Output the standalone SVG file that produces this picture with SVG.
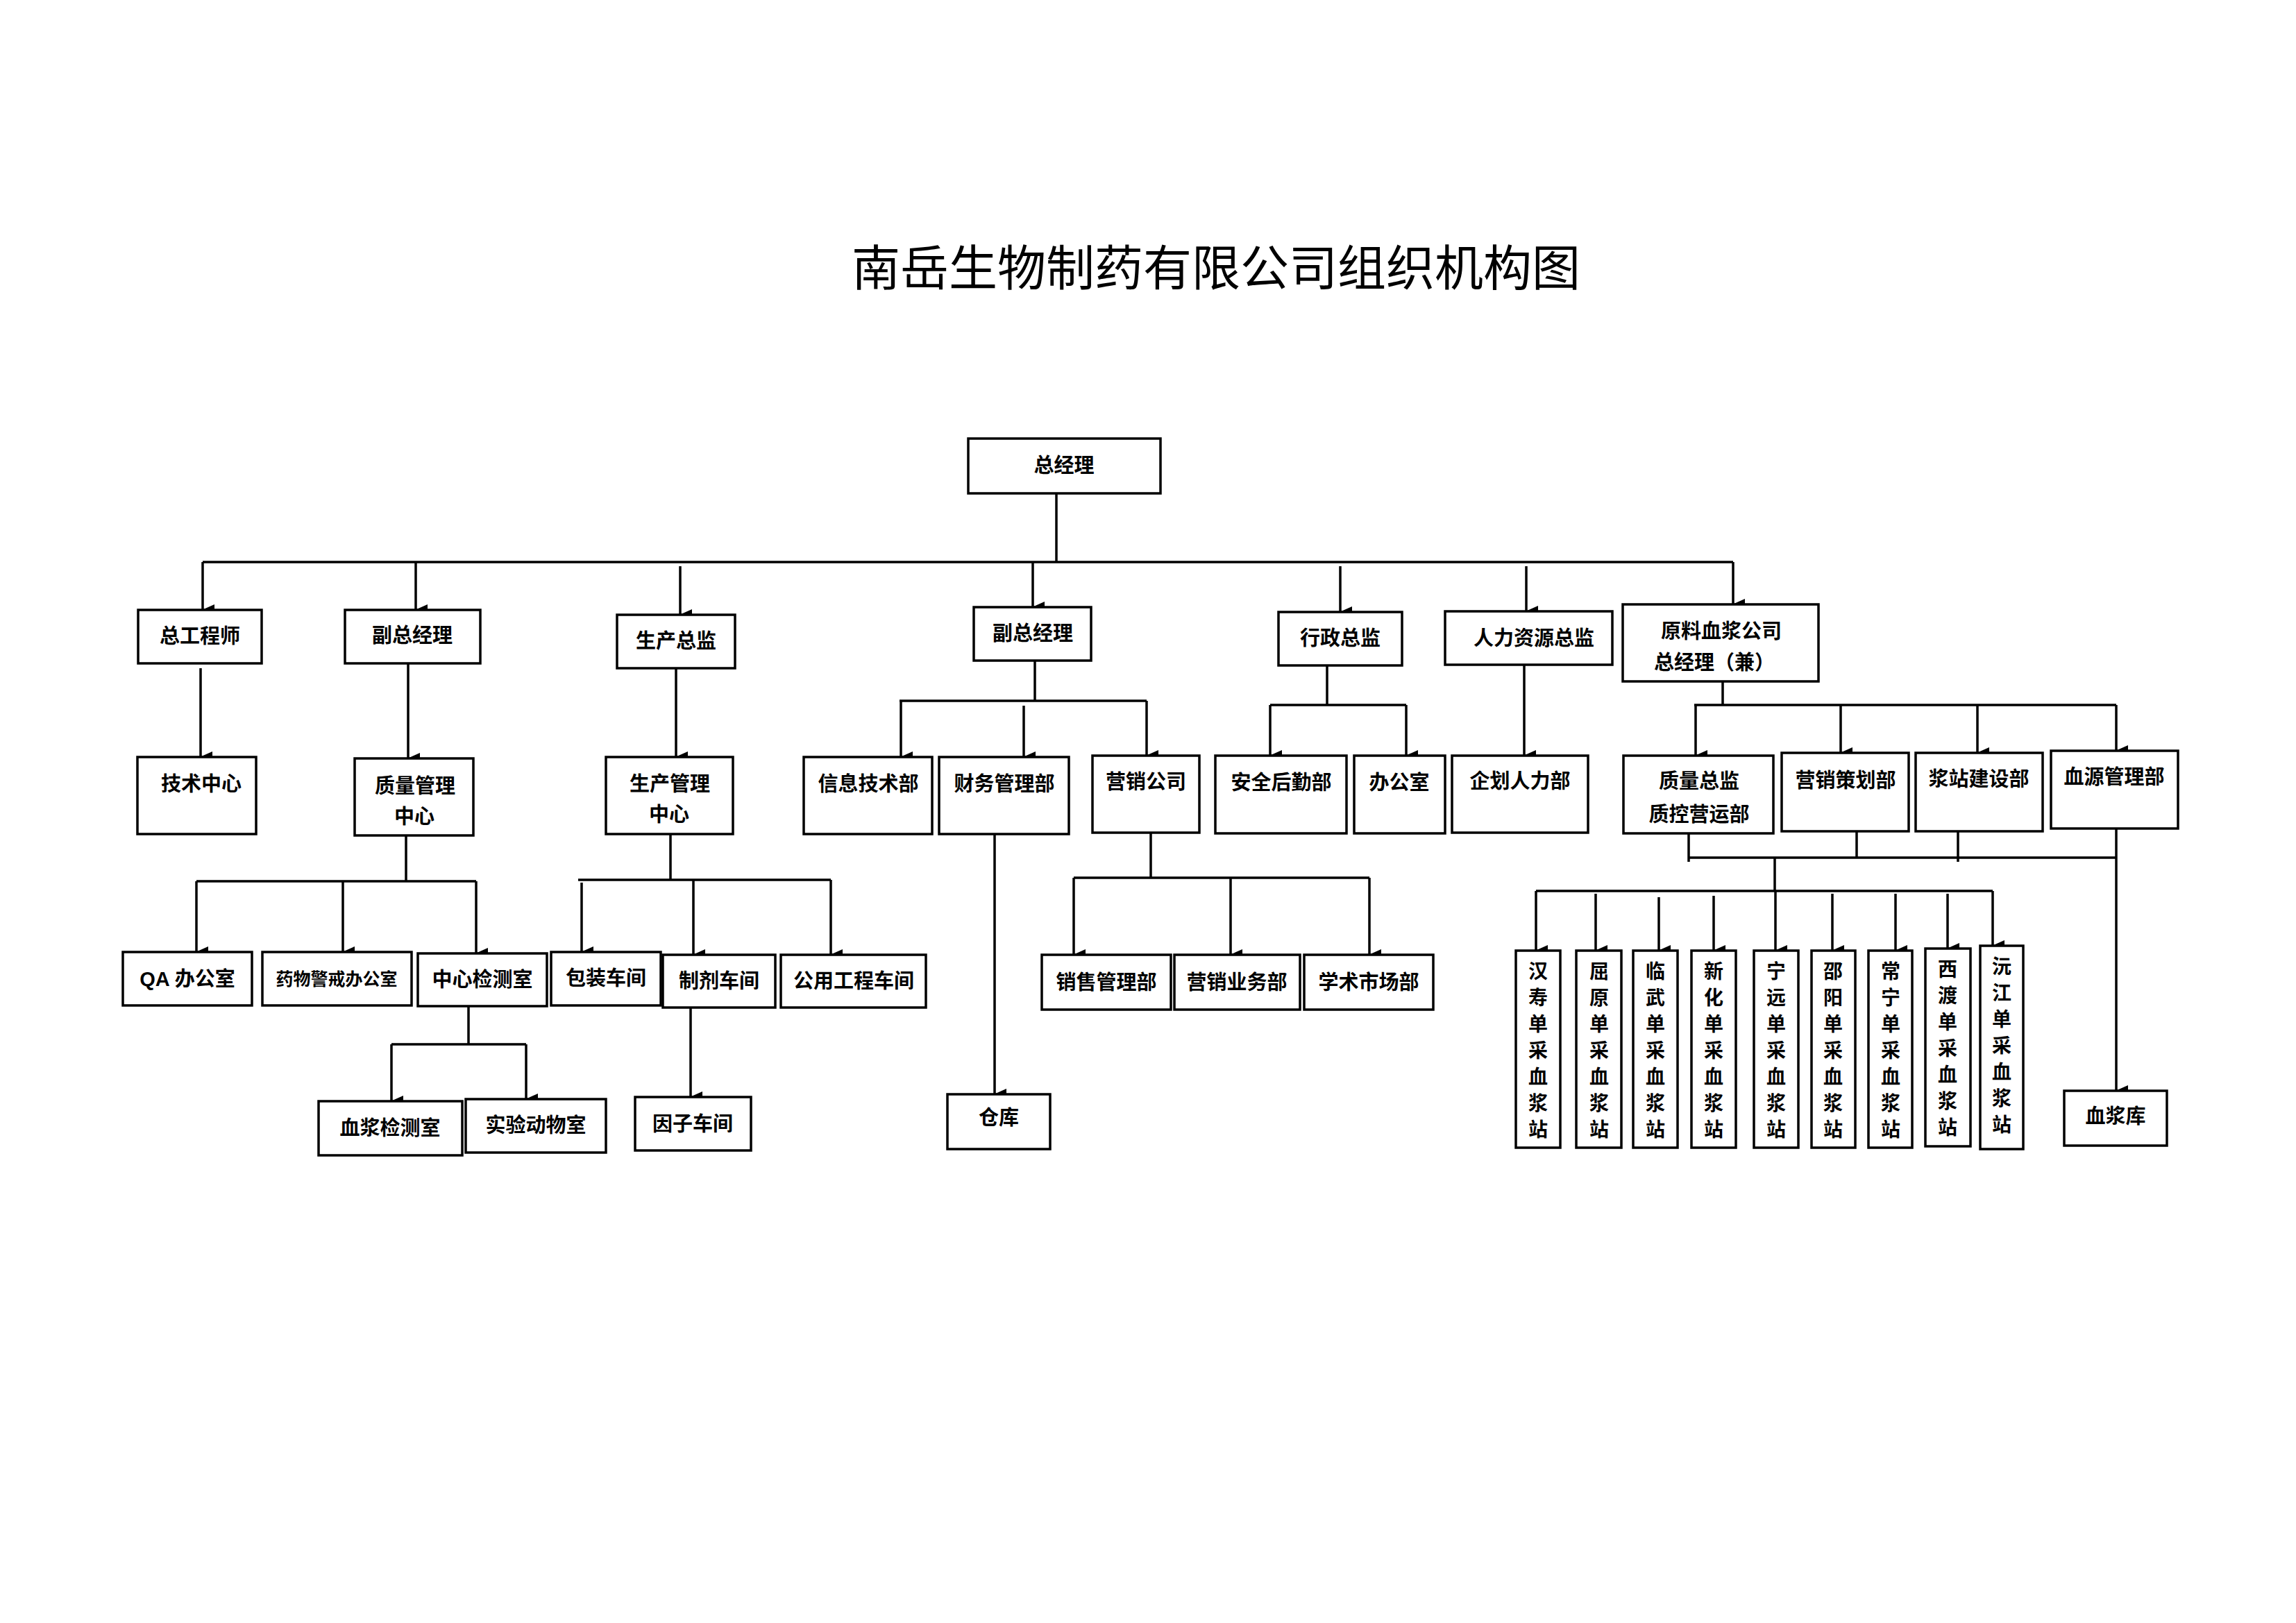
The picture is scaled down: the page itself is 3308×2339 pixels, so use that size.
<svg xmlns="http://www.w3.org/2000/svg" width="3308" height="2339" viewBox="0 0 3308 2339">
<style>
rect{fill:#fff;stroke:#000;stroke-width:3.5}
text{font-family:"Liberation Sans","Noto Sans CJK SC",sans-serif;font-weight:bold;font-size:29px;text-anchor:middle;dominant-baseline:central;fill:#000}
.t{font-weight:normal;font-size:70px}
.v{font-size:28px}
#conn path{fill:none;stroke:#000;stroke-width:3.5}
#conn path.a{marker-end:url(#ah)}
</style>
<defs><marker id="ah" markerWidth="16" markerHeight="18" refX="8" refY="17" orient="auto-start-reverse" markerUnits="userSpaceOnUse" viewBox="0 0 16 18"><path d="M0 0 L16 0 L8 18 Z" fill="#000" transform="rotate(0)"/></marker></defs>
<rect x="0" y="0" width="3308" height="2339" style="stroke:none"/>
<text class="t" x="1752" y="388">南岳生物制药有限公司组织机构图</text>
<g id="conn">
<path d="M1522 711 V810"/>
<path d="M292 810 H2497"/>
<path class="a" d="M292 810 V879"/>
<path class="a" d="M599 810 V879"/>
<path class="a" d="M980 816 V886"/>
<path class="a" d="M1488 810 V875"/>
<path class="a" d="M1931 816 V882"/>
<path class="a" d="M2199 816 V881"/>
<path class="a" d="M2497 810 V871"/>
<path class="a" d="M289 963 V1091"/>
<path class="a" d="M588 956 V1093"/>
<path class="a" d="M974 963 V1091"/>
<path d="M585 1204 V1270 M283 1270 H686"/>
<path class="a" d="M283 1270 V1372"/>
<path class="a" d="M494 1270 V1372"/>
<path class="a" d="M686 1270 V1374"/>
<path d="M675 1450 V1505 M564 1505 H758"/>
<path class="a" d="M564 1505 V1587"/>
<path class="a" d="M758 1505 V1584"/>
<path d="M966 1202 V1268 M833 1268 H1197"/>
<path class="a" d="M838 1272 V1372"/>
<path class="a" d="M999 1268 V1376"/>
<path class="a" d="M1197 1268 V1376"/>
<path class="a" d="M995 1452 V1581"/>
<path d="M1491 952 V1010 M1296 1010 H1652"/>
<path class="a" d="M1298 1010 V1091"/>
<path class="a" d="M1475 1017 V1091"/>
<path class="a" d="M1652 1010 V1089"/>
<path class="a" d="M1433 1202 V1577"/>
<path d="M1658 1200 V1265 M1547 1265 H1973"/>
<path class="a" d="M1547 1265 V1376"/>
<path class="a" d="M1773 1265 V1376"/>
<path class="a" d="M1973 1265 V1376"/>
<path d="M1912 959 V1016 M1830 1016 H2026"/>
<path class="a" d="M1830 1016 V1089"/>
<path class="a" d="M2026 1016 V1089"/>
<path class="a" d="M2196 958 V1089"/>
<path d="M2482 982 V1016 M2441 1016 H3049"/>
<path class="a" d="M2443 1016 V1089"/>
<path class="a" d="M2652 1016 V1085"/>
<path class="a" d="M2849 1016 V1085"/>
<path class="a" d="M3049 1016 V1082"/>
<path d="M2433 1201 V1242 M2675 1198 V1236 M2821 1198 V1242 M2433 1236 H3049"/>
<path class="a" d="M3049 1194 V1572"/>
<path d="M2557 1236 V1284 M2213 1284 H2871"/>
<path class="a" d="M2213 1284 V1370"/>
<path class="a" d="M2299 1288 V1370"/>
<path class="a" d="M2390 1293 V1370"/>
<path class="a" d="M2469 1291 V1370"/>
<path class="a" d="M2558 1284 V1370"/>
<path class="a" d="M2640 1288 V1370"/>
<path class="a" d="M2731 1288 V1370"/>
<path class="a" d="M2806 1288 V1367"/>
<path class="a" d="M2871 1284 V1363"/>
</g>
<g id="n-gm"><rect x="1395" y="632" width="277" height="79"/><text x="1533" y="671">总经理</text></g>
<g id="n-zgcs"><rect x="199" y="879" width="178" height="77"/><text x="288" y="917">总工程师</text></g>
<g id="n-fzjl1"><rect x="497" y="879" width="195" height="77"/><text x="594" y="916">副总经理</text></g>
<g id="n-sczj"><rect x="889" y="886" width="170" height="77"/><text x="974" y="924">生产总监</text></g>
<g id="n-fzjl2"><rect x="1403" y="875" width="169" height="77"/><text x="1488" y="913">副总经理</text></g>
<g id="n-xzzj"><rect x="1842" y="882" width="178" height="77"/><text x="1931" y="920">行政总监</text></g>
<g id="n-rlzy"><rect x="2082" y="881" width="241" height="77"/><text x="2210" y="920">人力资源总监</text></g>
<g id="n-ylxj"><rect x="2338" y="871" width="282" height="111"/><text x="2480" y="910">原料血浆公司</text><text x="2470" y="955">总经理（兼）</text></g>
<g id="n-jszx"><rect x="198" y="1091" width="171" height="111"/><text x="290" y="1130">技术中心</text></g>
<g id="n-zlgl"><rect x="511" y="1093" width="171" height="111"/><text x="598" y="1133">质量管理</text><text x="597" y="1177">中心</text></g>
<g id="n-scgl"><rect x="873" y="1091" width="183" height="111"/><text x="965" y="1130">生产管理</text><text x="964" y="1174">中心</text></g>
<g id="n-xxjs"><rect x="1158" y="1091" width="185" height="111"/><text x="1251" y="1130">信息技术部</text></g>
<g id="n-cwgl"><rect x="1353" y="1091" width="187" height="111"/><text x="1447" y="1130">财务管理部</text></g>
<g id="n-yxgs"><rect x="1574" y="1089" width="154" height="111"/><text x="1651" y="1127">营销公司</text></g>
<g id="n-aqhq"><rect x="1751" y="1089" width="189" height="112"/><text x="1846" y="1128">安全后勤部</text></g>
<g id="n-bgs"><rect x="1951" y="1089" width="131" height="112"/><text x="2016" y="1128">办公室</text></g>
<g id="n-qhrl"><rect x="2092" y="1089" width="196" height="111"/><text x="2190" y="1126">企划人力部</text></g>
<g id="n-zlzj"><rect x="2339" y="1089" width="216" height="112"/><text x="2448" y="1126">质量总监</text><text x="2448" y="1174">质控营运部</text></g>
<g id="n-yxch"><rect x="2567" y="1085" width="183" height="113"/><text x="2659" y="1125">营销策划部</text></g>
<g id="n-jzjs"><rect x="2760" y="1085" width="183" height="113"/><text x="2851" y="1123">浆站建设部</text></g>
<g id="n-xygl"><rect x="2955" y="1082" width="183" height="112"/><text x="3046" y="1120">血源管理部</text></g>
<g id="n-qa"><rect x="177" y="1372" width="186" height="77"/><text x="270" y="1411">QA 办公室</text></g>
<g id="n-ywjj"><rect x="378" y="1372" width="215" height="77"/><text x="485" y="1411" style="font-size:25px">药物警戒办公室</text></g>
<g id="n-zxjc"><rect x="602" y="1374" width="186" height="76"/><text x="695" y="1412">中心检测室</text></g>
<g id="n-bzcj"><rect x="794" y="1372" width="158" height="77"/><text x="873" y="1410">包装车间</text></g>
<g id="n-zjcj"><rect x="955" y="1376" width="162" height="76"/><text x="1036" y="1414">制剂车间</text></g>
<g id="n-gygc"><rect x="1125" y="1376" width="209" height="76"/><text x="1230" y="1414">公用工程车间</text></g>
<g id="n-xsgl"><rect x="1501" y="1376" width="186" height="79"/><text x="1594" y="1416">销售管理部</text></g>
<g id="n-yxyw"><rect x="1692" y="1376" width="181" height="79"/><text x="1782" y="1416">营销业务部</text></g>
<g id="n-xssc"><rect x="1879" y="1376" width="186" height="79"/><text x="1972" y="1416">学术市场部</text></g>
<g id="n-xjjc"><rect x="459" y="1587" width="207" height="78"/><text x="562" y="1626">血浆检测室</text></g>
<g id="n-sydw"><rect x="671" y="1584" width="202" height="77"/><text x="772" y="1622">实验动物室</text></g>
<g id="n-yzcj"><rect x="915" y="1581" width="167" height="77"/><text x="998" y="1620">因子车间</text></g>
<g id="n-ck"><rect x="1365" y="1577" width="148" height="79"/><text x="1439" y="1611">仓库</text></g>
<g id="n-xjk"><rect x="2974" y="1572" width="148" height="79"/><text x="3048" y="1609">血浆库</text></g>
<g id="n-s1"><rect x="2184" y="1370" width="64" height="284"/><text class="v" x="2216" y="1400">汉</text><text class="v" x="2216" y="1438">寿</text><text class="v" x="2216" y="1476">单</text><text class="v" x="2216" y="1514">采</text><text class="v" x="2216" y="1552">血</text><text class="v" x="2216" y="1590">浆</text><text class="v" x="2216" y="1628">站</text></g>
<g id="n-s2"><rect x="2271" y="1370" width="65" height="284"/><text class="v" x="2304" y="1400">屈</text><text class="v" x="2304" y="1438">原</text><text class="v" x="2304" y="1476">单</text><text class="v" x="2304" y="1514">采</text><text class="v" x="2304" y="1552">血</text><text class="v" x="2304" y="1590">浆</text><text class="v" x="2304" y="1628">站</text></g>
<g id="n-s3"><rect x="2353" y="1370" width="64" height="284"/><text class="v" x="2385" y="1400">临</text><text class="v" x="2385" y="1438">武</text><text class="v" x="2385" y="1476">单</text><text class="v" x="2385" y="1514">采</text><text class="v" x="2385" y="1552">血</text><text class="v" x="2385" y="1590">浆</text><text class="v" x="2385" y="1628">站</text></g>
<g id="n-s4"><rect x="2437" y="1370" width="64" height="284"/><text class="v" x="2469" y="1400">新</text><text class="v" x="2469" y="1438">化</text><text class="v" x="2469" y="1476">单</text><text class="v" x="2469" y="1514">采</text><text class="v" x="2469" y="1552">血</text><text class="v" x="2469" y="1590">浆</text><text class="v" x="2469" y="1628">站</text></g>
<g id="n-s5"><rect x="2527" y="1370" width="64" height="284"/><text class="v" x="2559" y="1400">宁</text><text class="v" x="2559" y="1438">远</text><text class="v" x="2559" y="1476">单</text><text class="v" x="2559" y="1514">采</text><text class="v" x="2559" y="1552">血</text><text class="v" x="2559" y="1590">浆</text><text class="v" x="2559" y="1628">站</text></g>
<g id="n-s6"><rect x="2610" y="1370" width="63" height="284"/><text class="v" x="2641" y="1400">邵</text><text class="v" x="2641" y="1438">阳</text><text class="v" x="2641" y="1476">单</text><text class="v" x="2641" y="1514">采</text><text class="v" x="2641" y="1552">血</text><text class="v" x="2641" y="1590">浆</text><text class="v" x="2641" y="1628">站</text></g>
<g id="n-s7"><rect x="2692" y="1370" width="63" height="284"/><text class="v" x="2724" y="1400">常</text><text class="v" x="2724" y="1438">宁</text><text class="v" x="2724" y="1476">单</text><text class="v" x="2724" y="1514">采</text><text class="v" x="2724" y="1552">血</text><text class="v" x="2724" y="1590">浆</text><text class="v" x="2724" y="1628">站</text></g>
<g id="n-s8"><rect x="2774" y="1367" width="65" height="285"/><text class="v" x="2806" y="1397">西</text><text class="v" x="2806" y="1435">渡</text><text class="v" x="2806" y="1473">单</text><text class="v" x="2806" y="1511">采</text><text class="v" x="2806" y="1549">血</text><text class="v" x="2806" y="1587">浆</text><text class="v" x="2806" y="1625">站</text></g>
<g id="n-s9"><rect x="2853" y="1363" width="62" height="293"/><text class="v" x="2884" y="1393">沅</text><text class="v" x="2884" y="1431">江</text><text class="v" x="2884" y="1469">单</text><text class="v" x="2884" y="1507">采</text><text class="v" x="2884" y="1545">血</text><text class="v" x="2884" y="1583">浆</text><text class="v" x="2884" y="1621">站</text></g>
</svg>
